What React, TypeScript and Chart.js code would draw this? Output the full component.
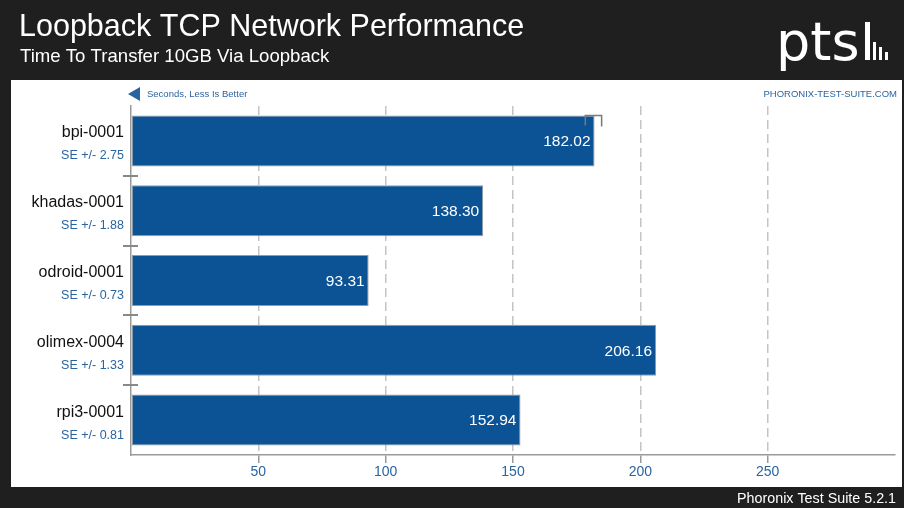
import React, { useEffect, useRef } from "react";
import { Chart, registerables } from "chart.js";

Chart.register(...registerables);

const title = "Loopback TCP Network Performance";
const subtitle = "Time To Transfer 10GB Via Loopback";
const unitLabel = "Seconds, Less Is Better";
const siteLabel = "PHORONIX-TEST-SUITE.COM";
const footerLabel = "Phoronix Test Suite 5.2.1";

const categories = ["bpi-0001", "khadas-0001", "odroid-0001", "olimex-0004", "rpi3-0001"];
const values = [182.02, 138.3, 93.31, 206.16, 152.94];
const seLabels = ["SE +/- 2.75", "SE +/- 1.88", "SE +/- 0.73", "SE +/- 1.33", "SE +/- 0.81"];
const errLow = [178.4, null, null, null, null];
const errHigh = [184.8, null, null, null, null];
const xMin = 0;
const xMax = 300;
const xStep = 50;

const DARK = "#1f1f1f";
const BLUE = "#2a64a0";
const FONT = "'Liberation Sans', Arial, sans-serif";

const framePlugin = {
  id: "frame",
  beforeDraw(chart: any) {
    const { ctx, width, height } = chart;
    ctx.save();
    ctx.fillStyle = DARK;
    ctx.fillRect(0, 0, width, height);
    ctx.fillStyle = "#ffffff";
    ctx.fillRect(11, 80, width - 13, 407);
    // title
    ctx.fillStyle = "#ffffff";
    ctx.textBaseline = "alphabetic";
    ctx.textAlign = "left";
    ctx.font = `30.5px ${FONT}`;
    ctx.fillText(title, 19, 36);
    ctx.font = `18.6px ${FONT}`;
    ctx.fillText(subtitle, 20, 62);
    // logo
    ctx.font = `54px 'DejaVu Sans', sans-serif`;
    ctx.fillText("pts", 776, 60);
    ctx.fillRect(865, 22, 5, 38);
    ctx.fillRect(873, 42, 3, 18);
    ctx.fillRect(879, 47, 3, 13);
    ctx.fillRect(885, 52, 3, 8);
    // top labels
    ctx.fillStyle = BLUE;
    ctx.beginPath();
    ctx.moveTo(128, 94);
    ctx.lineTo(140, 87);
    ctx.lineTo(140, 101);
    ctx.closePath();
    ctx.fill();
    ctx.font = `9.5px ${FONT}`;
    ctx.textBaseline = "middle";
    ctx.fillText(unitLabel, 147, 94);
    ctx.textAlign = "right";
    ctx.fillText(siteLabel, 897, 94);
    // footer
    ctx.fillStyle = "#ffffff";
    ctx.font = `14.3px ${FONT}`;
    ctx.textBaseline = "alphabetic";
    ctx.fillText(footerLabel, 896, 503);
    ctx.restore();
  },
  afterDraw(chart: any) {
    const { ctx } = chart;
    const y = chart.scales.y;
    const x = chart.scales.x;
    const meta = chart.getDatasetMeta(0);
    ctx.save();
    // category labels
    categories.forEach((c, i) => {
      const py = y.getPixelForValue(i);
      ctx.textAlign = "right";
      ctx.textBaseline = "middle";
      ctx.fillStyle = "#111111";
      ctx.font = `16px ${FONT}`;
      ctx.fillText(c, 124, py - 8);
      ctx.fillStyle = BLUE;
      ctx.font = `12.5px ${FONT}`;
      ctx.fillText(seLabels[i], 124, py + 15);
    });
    // separators
    ctx.strokeStyle = "#888888";
    ctx.lineWidth = 2;
    for (let i = 0; i < categories.length - 1; i++) {
      const sy = Math.round((y.getPixelForValue(i) + y.getPixelForValue(i + 1)) / 2);
      ctx.beginPath();
      ctx.moveTo(123, sy);
      ctx.lineTo(138, sy);
      ctx.stroke();
    }
    // value labels
    ctx.fillStyle = "#ffffff";
    ctx.font = `15.5px ${FONT}`;
    ctx.textAlign = "right";
    ctx.textBaseline = "middle";
    meta.data.forEach((bar: any, i: number) => {
      ctx.fillText(values[i].toFixed(2), bar.x - 4, bar.y + 1);
    });
    // error bars
    ctx.strokeStyle = "#7a7a7a";
    ctx.lineWidth = 1.5;
    meta.data.forEach((bar: any, i: number) => {
      const lo = errLow[i];
      const hi = errHigh[i];
      if (lo == null || hi == null) return;
      const top = Math.round(bar.y - bar.height / 2) + 0.5;
      const x1 = x.getPixelForValue(lo);
      const x2 = x.getPixelForValue(hi);
      ctx.beginPath();
      ctx.moveTo(x1, top + 10);
      ctx.lineTo(x1, top);
      ctx.lineTo(x2, top);
      ctx.lineTo(x2, top + 11);
      ctx.stroke();
    });
    ctx.restore();
  },
};

export default function App() {
  const ref = useRef<HTMLCanvasElement | null>(null);
  useEffect(() => {
    document.body.style.margin = "0";
    const canvas = ref.current;
    if (!canvas) return;
    const chart = new Chart(canvas, {
      type: "bar",
      data: {
        labels: categories,
        datasets: [
          {
            data: values,
            backgroundColor: "#0b5394",
            borderColor: "#9a9a9a",
            borderWidth: 1,
            borderSkipped: false,
            barPercentage: 0.73,
            categoryPercentage: 1,
          },
        ],
      },
      options: {
        indexAxis: "y",
        responsive: false,
        animation: false,
        devicePixelRatio: 1,
        layout: { padding: { left: 131, right: 9, top: 106, bottom: 23 } },
        plugins: { legend: { display: false }, tooltip: { enabled: false }, title: { display: false } },
        scales: {
          x: {
            type: "linear",
            min: xMin,
            max: xMax,
            afterFit: (s: any) => {
              s.height = 30;
            },
            ticks: {
              stepSize: xStep,
              color: BLUE,
              font: { size: 14, family: FONT },
              padding: 1,
              maxRotation: 0,
              callback: (v: any) => (v === xMin || v === xMax ? "" : String(v)),
            },
            grid: {
              color: (c: any) => (c.tick && (c.tick.value === xMin || c.tick.value === xMax) ? "rgba(0,0,0,0)" : "#c4c4c4"),
              lineWidth: 1.5,
              drawTicks: true,
              tickLength: 8,
              tickColor: (c: any) => (c.tick && (c.tick.value === xMin || c.tick.value === xMax) ? "rgba(0,0,0,0)" : "#999999"),
            },
            border: { display: true, color: "#9a9a9a", width: 1.5, dash: [9, 5] },
          },
          y: {
            type: "category",
            afterFit: (s: any) => {
              s.width = 0;
            },
            ticks: { display: false },
            grid: { display: false },
            border: { display: true, color: "#9a9a9a", width: 1.5 },
          },
        },
      },
      plugins: [framePlugin],
    } as any);
    return () => chart.destroy();
  }, []);
  return (
    <div style={{ width: 904, height: 508 }}>
      <canvas ref={ref} width={904} height={508} style={{ display: "block" }} />
    </div>
  );
}
